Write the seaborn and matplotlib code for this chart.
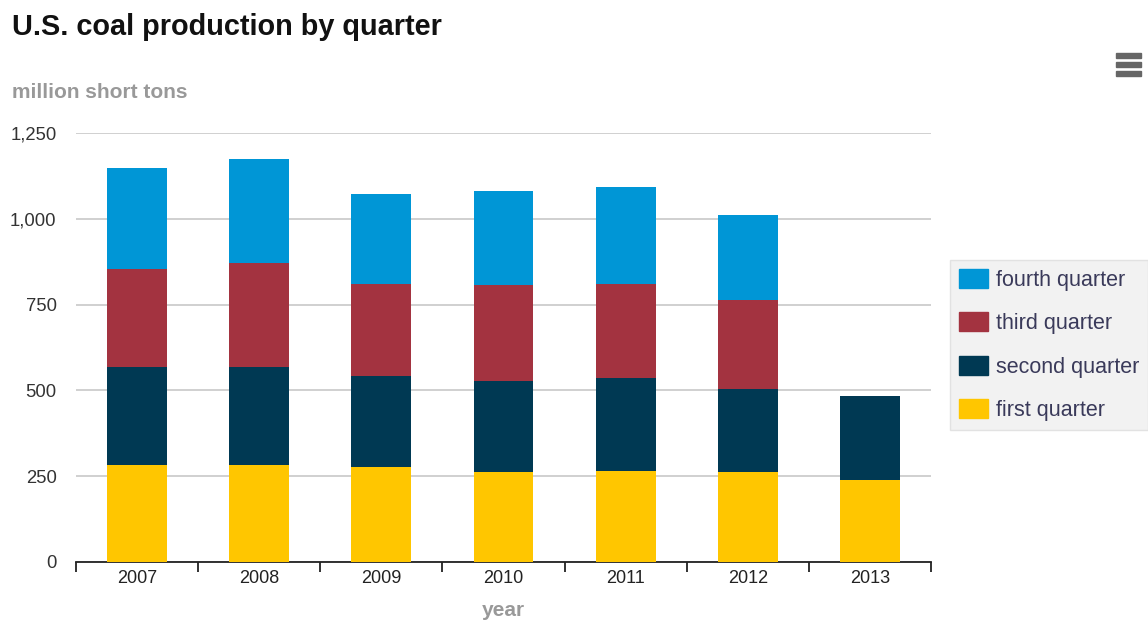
import numpy as np
import pandas as pd
import matplotlib
matplotlib.use("Agg")
import matplotlib.pyplot as plt
from matplotlib.patches import Patch, Rectangle
import seaborn as sns

years = ["2007", "2008", "2009", "2010", "2011", "2012", "2013"]
first_quarter = [282, 282, 276, 261, 266, 261, 239]
second_quarter = [287, 287, 266, 265, 271, 243, 244]
third_quarter = [286, 303, 269, 280, 274, 259, np.nan]
fourth_quarter = [292, 302, 261, 276, 281, 249, np.nan]

series_names = ["first quarter", "second quarter", "third quarter", "fourth quarter"]
series_colors = ["#FFC600", "#003953", "#A33340", "#0096D6"]
y_ticks = [0, 250, 500, 750, 1000, 1250]

sns.set_theme(style="white")
plt.rcParams["font.family"] = ["Liberation Sans", "DejaVu Sans"]

df = pd.DataFrame({
    "year": years,
    "first quarter": first_quarter,
    "second quarter": second_quarter,
    "third quarter": third_quarter,
    "fourth quarter": fourth_quarter,
})
cum = df[series_names].cumsum(axis=1, skipna=False)
cum["year"] = df["year"]

fig = plt.figure(figsize=(11.48, 6.2), dpi=100)
ax = fig.add_axes([76 / 1148, 58 / 620, 855 / 1148, 429 / 620])

for name, color in reversed(list(zip(series_names, series_colors))):
    sub = cum[["year", name]].dropna()
    sns.barplot(data=sub, x="year", y=name, order=years, color=color,
                width=0.49, linewidth=0, saturation=1, ax=ax, zorder=3)

ax.set_xlim(-0.5, len(years) - 0.5)
ax.set_ylim(0, 1250)
ax.set_yticks(y_ticks)
ax.set_yticklabels([f"{v:,}" for v in y_ticks], color="#333333", fontsize=13.3)
ax.yaxis.grid(True, color="#C8C8C8", linewidth=1.2, zorder=0)
ax.xaxis.grid(False)
ax.tick_params(axis="y", length=0, pad=14)
ax.set_xticks(range(len(years)))
ax.set_xticklabels(years, color="#222222", fontsize=13)
ax.tick_params(axis="x", which="major", length=0, pad=6)
ax.set_xticks(np.arange(-0.5, len(years), 1.0), minor=True)
ax.tick_params(axis="x", which="minor", length=7, width=1.3, color="#222222",
               direction="out", bottom=True)
ax.set_axisbelow(True)
for s in ["top", "right", "left"]:
    ax.spines[s].set_visible(False)
ax.spines["bottom"].set_color("#222222")
ax.spines["bottom"].set_linewidth(1.3)
ax.set_xlabel("year", color="#999999", fontsize=15, fontweight="bold", labelpad=10)
ax.set_ylabel("")

fig.text(12 / 1148, 1 - 27 / 620, "U.S. coal production by quarter", fontsize=20.8,
         fontweight="bold", color="#111111", va="center", ha="left")
fig.text(12 / 1148, 1 - 92 / 620, "million short tons", fontsize=15,
         fontweight="bold", color="#999999", va="center", ha="left")

# menu icon
for yy in [55, 64, 73]:
    fig.add_artist(Rectangle((1116 / 1148, 1 - (yy + 3) / 620), 25 / 1148, 5 / 620,
                             transform=fig.transFigure, color="#666666"))

handles = [Patch(facecolor=c, edgecolor=c, label=n)
           for n, c in reversed(list(zip(series_names, series_colors)))]
leg = fig.legend(handles=handles, loc="upper left",
                 bbox_to_anchor=(950 / 1148, 1 - 260 / 620),
                 bbox_transform=fig.transFigure, frameon=True, fancybox=False,
                 fontsize=15.5, handlelength=1.35, handleheight=1.0,
                 labelspacing=1.0, borderpad=0.4, handletextpad=0.4,
                 borderaxespad=0)
leg.get_frame().set_facecolor("#EFEFEF")
leg.get_frame().set_edgecolor("#DDDDDD")
for t in leg.get_texts():
    t.set_color("#3A3A5A")

fig.savefig("out.png", dpi=100)
